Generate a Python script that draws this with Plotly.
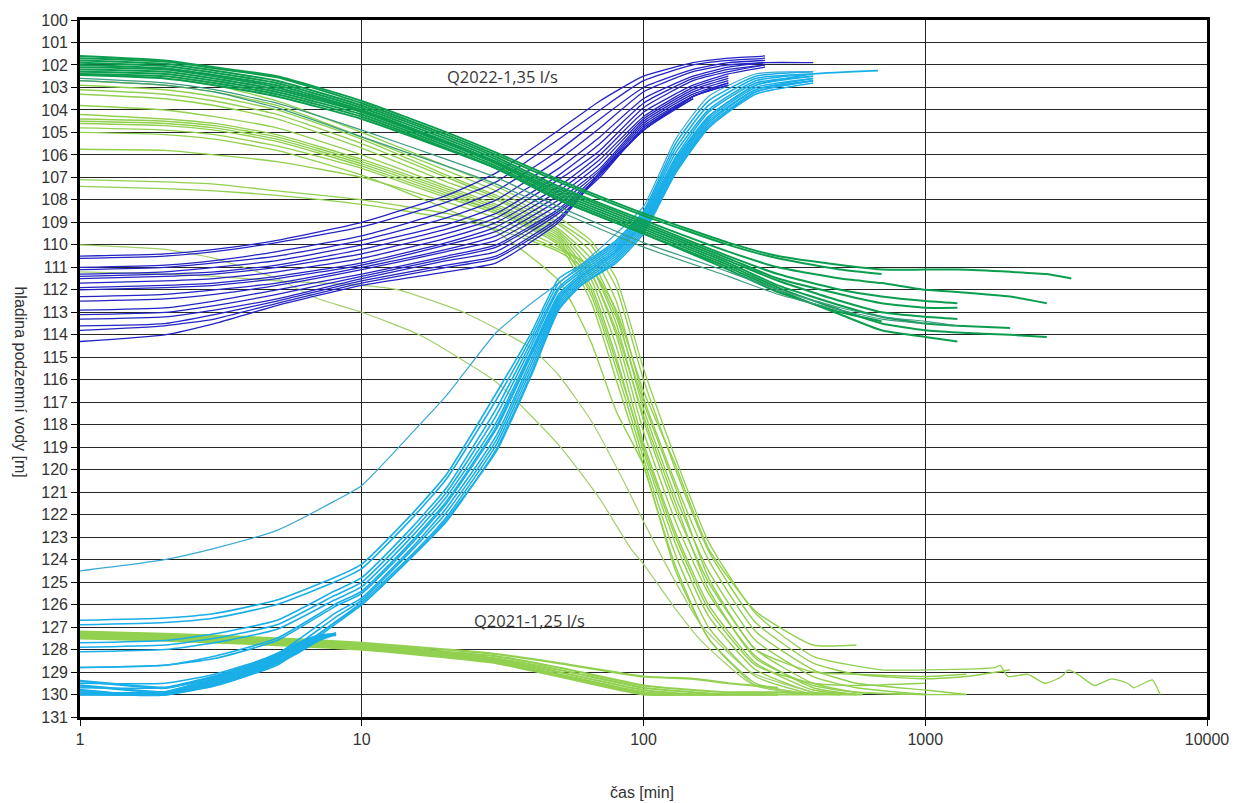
import math
import plotly.graph_objects as go

N = None

# ---------------- axes ----------------
X_TICKS = [1, 10, 100, 1000, 10000]
X_TICK_TEXT = ["1", "10", "100", "1000", "10000"]
Y_TICKS = list(range(100, 132))

# ---------------- Q2022 drawdown (dark green) ----------------
T_G = [1, 2, 3, 5, 10, 20, 30, 50, 100, 200, 300, 500, 700, 1000, 1300, 2000, 2700, 3300]
G_LINES = [
    [101.6, 101.8, 102.1, 102.5, 103.6, 105.0, 105.9, 107.1, 108.6, 109.9, 110.5, 110.9, 111.1, 111.1, 111.1, 111.2, 111.3, 111.5],
    [101.7, 101.85, 102.15, 102.55, 103.7, 105.1, 106.0, 107.2, 108.7, 110.0, 110.6, 111.1, 111.3, N, N, N, N, N],
    [101.8, 101.95, 102.25, 102.7, 103.8, 105.2, 106.1, 107.4, 108.9, 110.3, 111.0, 111.5, 111.7, 112.0, 112.1, 112.3, 112.6, N],
    [101.9, 102.05, 102.35, 102.8, 103.9, 105.3, 106.2, 107.5, 109.0, 110.5, 111.3, 112.0, 112.3, 112.5, 112.6, N, N, N],
    [102.0, 102.15, 102.45, 102.9, 104.0, 105.4, 106.3, 107.6, 109.1, 110.6, 111.5, 112.2, 112.6, 112.8, 112.8, N, N, N],
    [102.1, 102.2, 102.5, 103.0, 104.05, 105.45, 106.35, 107.7, 109.2, 110.7, 111.6, 112.5, 113.0, 113.2, 113.3, N, N, N],
    [102.2, 102.3, 102.6, 103.1, 104.1, 105.5, 106.4, 107.8, 109.3, 110.8, 111.8, 112.7, 113.2, 113.5, 113.6, 113.7, N, N],
    [102.3, 102.4, 102.7, 103.2, 104.2, 105.6, 106.5, 107.9, 109.4, 110.9, 111.9, 112.9, 113.5, 113.8, 113.9, 114.0, 114.1, N],
    [102.4, 102.5, 102.8, 103.3, 104.3, 105.7, 106.6, 108.0, 109.5, 111.0, 112.0, 113.1, 113.8, 114.1, 114.3, N, N, N],
    [102.45, 102.6, 102.9, 103.4, 104.4, 105.75, 106.6, 108.0, 109.5, 111.1, 112.1, 113.0, 113.4, N, N, N, N, N],
]
G_THIN = [
    [102.6, 102.8, 103.1, 103.7, 104.9, 106.2, 107.0, 108.3, 109.9, 111.2, 112.0, 112.8, 113.2, 113.4, 113.6, N, N, N],
    [102.7, 102.9, 103.2, 103.9, 105.2, 106.5, 107.3, 108.5, 110.1, 111.4, 112.2, 112.9, 113.3, 113.5, N, N, N, N],
]

# ---------------- Q2022 recovery (dark blue) ----------------
T_B = [1, 2, 3, 5, 10, 20, 30, 50, 70, 100, 150, 200, 270, 400]
B_LINES = [
    [110.5, 110.4, 110.2, 109.8, 109.0, 107.8, 106.8, 104.9, 103.6, 102.5, 101.9, 101.7, 101.6, N],
    [110.6, 110.5, 110.3, 109.9, 109.2, 108.1, 107.2, 105.3, 104.0, 102.7, 102.0, 101.8, 101.7, N],
    [111.0, 110.9, 110.7, 110.3, 109.6, 108.5, 107.6, 105.8, 104.4, 103.0, 102.2, 101.9, 101.8, N],
    [111.1, 111.0, 110.8, 110.5, 109.8, 108.8, 108.0, 106.2, 104.8, 103.2, 102.3, 102.0, 101.9, N],
    [111.3, 111.2, 111.0, 110.7, 110.0, 109.1, 108.3, 106.6, 105.2, 103.5, 102.5, 102.1, 101.9, 101.9],
    [111.4, 111.3, 111.2, 110.9, 110.2, 109.3, 108.6, 106.9, 105.5, 103.7, 102.6, 102.2, 102.0, N],
    [111.5, 111.4, 111.3, 111.0, 110.4, 109.5, 108.8, 107.1, 105.8, 103.9, 102.7, 102.3, 102.0, N],
    [111.7, 111.6, 111.5, 111.2, 110.6, 109.7, 109.0, 107.4, 106.0, 104.1, 102.9, 102.4, 102.1, N],
    [111.9, 111.8, 111.7, 111.4, 110.8, 109.9, 109.2, 107.6, 106.2, 104.3, 103.0, 102.5, N, N],
    [112.0, 111.9, 111.8, 111.5, 110.9, 110.0, 109.4, 107.8, 106.4, 104.4, 103.1, 102.6, N, N],
    [112.3, 112.2, 112.0, 111.7, 111.0, 110.2, 109.6, 108.0, 106.6, 104.5, 103.2, 102.7, N, N],
    [112.5, 112.4, 112.2, 111.8, 111.1, 110.3, 109.8, 108.2, 106.7, 104.6, 103.3, 102.8, N, N],
    [112.9, 112.8, 112.5, 112.0, 111.3, 110.5, 110.0, 108.4, 106.8, 104.7, 103.4, 102.9, N, N],
    [113.1, 113.0, 112.7, 112.2, 111.4, 110.6, 110.1, 108.5, 106.9, 104.8, 103.4, N, N, N],
    [113.3, 113.2, 112.9, 112.4, 111.5, 110.7, 110.3, 108.6, 107.0, 104.8, 103.5, N, N, N],
    [113.6, 113.5, 113.1, 112.5, 111.6, 110.9, 110.5, 108.8, 106.9, 104.9, 103.5, N, N, N],
    [113.8, 113.6, 113.3, 112.6, 111.7, 111.0, 110.6, 108.9, 106.8, 104.9, 103.4, 102.9, N, N],
    [114.3, 114.0, 113.5, 112.7, 111.8, 111.2, 110.8, 109.0, 106.8, 104.9, 103.4, 102.8, N, N],
]

# ---------------- Q2021 drawdown (light green) ----------------
T_C = [1, 2, 3, 5, 10, 20, 30, 50, 65, 80, 100, 130, 170, 250, 400, 570, 1000, 1400, 2000]
C_LINES = [
    [102.7, 102.9, 103.2, 103.8, 105.2, 106.7, 107.6, 109.0, 110.0, 111.9, 116.0, 120.0, 123.6, 126.8, 128.6, 129.1, 129.3, 129.2, 128.9],
    [102.9, 103.1, 103.4, 104.0, 105.3, 106.9, 107.8, 109.1, 110.3, 112.5, 116.8, 120.6, 124.0, 127.2, 128.9, 129.5, 129.8, 130.0, N],
    [103.1, 103.3, 103.6, 104.2, 105.5, 107.0, 107.9, 109.3, 110.6, 113.0, 117.3, 121.2, 124.5, 127.6, 129.2, 129.7, 130.0, N, N],
    [103.3, 103.5, 103.8, 104.4, 105.7, 107.2, 108.0, 109.4, 110.9, 113.5, 117.8, 121.8, 125.0, 128.0, 129.5, 129.9, 130.0, N, N],
    [103.8, 104.0, 104.3, 104.8, 106.0, 107.4, 108.2, 109.5, 111.2, 114.0, 118.3, 122.3, 125.5, 128.3, 129.7, 130.0, N, N, N],
    [104.2, 104.4, 104.6, 105.1, 106.2, 107.5, 108.3, 109.6, 111.5, 114.5, 118.8, 122.8, 126.0, 128.6, 129.8, 130.0, N, N, N],
    [104.4, 104.5, 104.7, 105.2, 106.3, 107.6, 108.4, 109.7, 111.8, 115.0, 119.2, 123.3, 126.5, 128.9, 129.9, 130.0, N, N, N],
    [104.5, 104.6, 104.8, 105.3, 106.4, 107.7, 108.5, 109.9, 112.0, 115.2, 119.0, 123.0, 126.2, 128.7, 129.5, 129.6, 129.5, N, N],
    [104.6, 104.7, 104.9, 105.4, 106.5, 107.8, 108.5, 109.8, 112.2, 115.5, 119.5, 123.8, 127.0, 129.2, 130.0, N, N, N, N],
    [104.8, 104.9, 105.1, 105.6, 106.6, 107.9, 108.6, 110.0, 112.5, 116.0, 119.8, 124.3, 127.5, 129.5, 130.0, N, N, N, N],
    [105.0, 105.1, 105.3, 105.8, 106.9, 108.4, 109.4, 111.6, 114.3, 117.4, 119.8, 124.5, 127.5, 129.6, 130.0, N, N, N, N],
    [105.75, 105.8, 106.0, 106.3, 107.0, 108.1, 108.8, 110.1, 111.0, 112.9, 116.5, 119.8, 123.5, 126.3, 127.8, 127.8, N, N, N],
    [107.1, 107.2, 107.3, 107.6, 108.0, 108.6, 109.1, 110.2, 111.0, 113.2, 117.0, 120.8, 124.8, 128.0, 129.0, 129.1, 129.2, 129.1, N],
    [107.4, 107.5, 107.6, 107.8, 108.2, 108.8, 109.3, 110.3, 111.3, 113.8, 117.6, 121.5, 125.3, 128.4, 129.6, 129.9, 130.0, 130.0, N],
]
LONG_T = [1, 2, 3, 5, 10, 20, 30, 50, 65, 80, 100, 130, 170, 250, 400, 700, 1026, 1770, 1844, 1967,
          2315, 2660, 3053, 3220, 3476, 3990, 4584, 5226, 5496, 5963, 6395, 6822]
LONG_V = [102.4, 102.6, 102.9, 103.6, 105.0, 106.5, 107.4, 108.8, 109.8, 111.5, 115.5, 119.5, 123.2, 126.4, 128.3, 128.9,
          128.9, 128.8, 128.7, 129.2, 129.1, 129.5, 129.2, 128.9, 129.1, 129.6, 129.3, 129.5, 129.7, 129.5, 129.35, 130.0]
O1_T = [1, 2, 3, 5, 7, 10, 16, 30, 50, 70, 90, 100, 130, 160, 240, 400]
O1_V = [110.0, 110.2, 110.6, 111.5, 112.4, 113.0, 114.0, 116.1, 118.9, 121.3, 123.5, 124.2, 126.2, 127.6, 129.5, 130.0]
O2_T = [1, 2, 3, 5, 10, 13.5, 23, 40, 50, 65, 85, 100, 130, 160, 240, 400]
O2_V = [111.2, 111.3, 111.4, 111.6, 111.8, 112.0, 113.0, 114.6, 115.8, 117.8, 120.5, 122.3, 125.0, 126.9, 129.0, 129.9]

# bottom light-green band (Q2021, second test)
T_F = [1, 2, 5, 10, 20, 30, 50, 100, 150, 200, 300, 500, 600]
F_LINES = [
    [127.2, 127.3, 127.5, 127.7, 128.0, 128.2, 128.6, 129.2, 129.3, 129.5, 129.7, N, N],
    [127.25, 127.35, 127.55, 127.75, 128.1, 128.3, 128.8, 129.6, 129.8, 129.9, 129.9, 130.0, N],
    [127.3, 127.4, 127.6, 127.8, 128.15, 128.4, 128.9, 129.7, 129.9, 130.0, 130.0, N, N],
    [127.35, 127.45, 127.65, 127.85, 128.2, 128.45, 129.0, 129.8, 130.0, 130.0, 130.0, 130.0, 130.0],
    [127.4, 127.5, 127.7, 127.9, 128.25, 128.5, 129.1, 129.9, 130.0, 130.0, N, N, N],
    [127.45, 127.55, 127.75, 127.95, 128.3, 128.55, 129.15, 129.95, 130.0, N, N, N, N],
    [127.5, 127.6, 127.8, 128.0, 128.35, 128.6, 129.2, 130.0, 130.0, 130.0, 130.0, N, N],
]

# ---------------- Q2021 recovery (cyan) ----------------
T_D = [1, 2, 3, 5, 8, 10, 15, 20, 30, 40, 50, 60, 80, 100, 130, 170, 250, 400, 680]
D_OUT = [124.5, 124.0, 123.5, 122.7, 121.4, 120.7, 118.4, 116.7, 113.9, 112.6, 111.7, 110.9, 109.5, 108.3, 105.3, 103.4, 102.4, 102.3, N]
D_LINES = [
    [126.7, 126.6, 126.4, 125.8, 124.8, 124.2, 122.0, 120.2, 116.6, 113.9, 111.5, 110.9, 109.8, 108.5, 105.5, 103.6, 102.5, 102.3, N],
    [126.9, 126.8, 126.6, 126.0, 125.0, 124.4, 122.2, 120.4, 116.9, 114.1, 111.7, 111.0, 109.9, 108.6, 105.7, 103.8, 102.6, 102.4, N],
    [127.7, 127.6, 127.3, 126.7, 125.4, 124.8, 122.6, 120.8, 117.3, 114.3, 111.9, 111.1, 110.0, 108.7, 105.9, 104.0, 102.7, 102.4, N],
    [127.9, 127.8, 127.5, 126.9, 125.6, 125.0, 122.8, 121.0, 117.6, 114.5, 112.0, 111.2, 110.1, 108.8, 106.1, 104.1, 102.8, 102.5, N],
    [128.1, 128.0, 127.7, 127.1, 125.8, 125.2, 123.0, 121.2, 117.9, 114.7, 112.2, 111.3, 110.2, 108.9, 106.2, 104.3, 102.9, 102.4, 102.25],
    [128.8, 128.7, 128.4, 127.6, 126.1, 125.5, 123.3, 121.5, 118.2, 114.9, 112.4, 111.4, 110.3, 109.0, 106.4, 104.4, 103.0, 102.6, N],
    [128.8, 128.7, 128.3, 127.5, 126.0, 125.4, 123.2, 121.4, 118.1, 114.8, 112.3, 111.4, 110.3, 109.0, 106.3, 104.3, 102.9, 102.5, N],
    [129.5, 129.5, 129.1, 128.2, 126.4, 125.7, 123.5, 121.7, 118.5, 115.1, 112.5, 111.5, 110.4, 109.1, 106.5, 104.5, 103.1, 102.6, N],
    [129.7, 129.7, 129.3, 128.4, 126.6, 125.8, 123.6, 121.9, 118.7, 115.3, 112.6, 111.6, 110.5, 109.2, 106.6, 104.6, 103.1, 102.7, N],
    [129.9, 129.9, 129.5, 128.6, 126.8, 125.9, 123.8, 122.1, 118.9, 115.5, 112.7, 111.7, 110.6, 109.3, 106.7, 104.7, 103.2, 102.7, N],
    [130.0, 130.0, 129.6, 128.7, 126.9, 126.0, 123.9, 122.3, 119.1, 115.7, 112.8, 111.8, 110.7, 109.4, 106.8, 104.8, 103.3, 102.8, N],
    [130.0, 129.9, 129.5, 128.6, 126.8, 126.0, 123.9, 122.2, 119.2, 115.8, 112.9, 111.8, 110.8, 109.5, 106.8, 104.8, 103.2, 102.7, N],
]
# short thick cyan band ending at t = 8
T_E = [1, 1.5, 2, 3, 4, 5, 6, 7, 8.1]
E_LINES = [
    [129.8, 130.0, 130.0, 129.6, 129.1, 128.6, 128.1, 127.6, 127.3],
    [129.6, 129.8, 129.9, 129.4, 128.9, 128.4, 127.9, 127.5, 127.3],
    [129.9, 130.0, 129.9, 129.3, 128.8, 128.3, 127.8, 127.4, 127.35],
    [129.4, 129.6, 129.7, 129.2, 128.7, 128.2, 127.7, 127.4, 127.3],
    [130.0, 130.0, 130.0, 129.5, 129.0, 128.5, 128.0, 127.5, 127.3],
]

# ---------------- labels ----------------
LABELS = [("Q2022-1,35 l/s", 31.6, 102.5), ("Q2021-1,25 l/s", 39.4, 126.7)]
X_TITLE = "čas [min]"
Y_TITLE = "hladina podzemní vody [m]"

# ---------------- styles ----------------
C_DKGREEN = "#0c9e4e"
C_TEAL = "#3d9c7e"
C_BLUE = "#2424c4"
C_LTGREEN = "#92d050"
C_CYAN = "#19aee8"
C_CYAN_THIN = "#3aa9d6"

fig = go.Figure()


def add(ts, vs, color, width):
    xs = [t for t, v in zip(ts, vs) if v is not None]
    ys = [v for v in vs if v is not None]
    fig.add_trace(go.Scatter(x=xs, y=ys, mode="lines",
                             line=dict(color=color, width=width, shape="spline", smoothing=0.5),
                             hoverinfo="skip", showlegend=False))


for vs in C_LINES:
    add(T_C, vs, C_LTGREEN, 1.4)
add(LONG_T, LONG_V, C_LTGREEN, 1.3)
add(O1_T, O1_V, "#a3cf6e", 1.2)
add(O2_T, O2_V, "#a3cf6e", 1.2)
for vs in F_LINES:
    add(T_F, vs, C_LTGREEN, 2.2)
for vs in D_LINES:
    add(T_D, vs, C_CYAN, 1.6)
add(T_D, D_OUT, C_CYAN_THIN, 1.2)
for vs in E_LINES:
    add(T_E, vs, C_CYAN, 2.6)
for vs in B_LINES:
    add(T_B, vs, C_BLUE, 1.3)
for vs in G_LINES:
    add(T_G, vs, C_DKGREEN, 2.0)
for vs in G_THIN:
    add(T_G, vs, C_TEAL, 1.2)

for text, tx, ty in LABELS:
    fig.add_annotation(x=math.log10(tx), y=ty, xref="x", yref="y", text=text, showarrow=False,
                       font=dict(family="Open Sans, Liberation Sans, Arial", size=16.5, color="#383838"))

fig.add_annotation(x=0.4987, y=-0.1086, xref="paper", yref="paper", text=X_TITLE, showarrow=False,
                   font=dict(family="Liberation Sans, Arial", size=16, color="#333333"),
                   xanchor="center", yanchor="middle")
fig.add_annotation(x=-0.053, y=0.481, xref="paper", yref="paper", text=Y_TITLE, showarrow=False,
                   textangle=90, font=dict(family="Liberation Sans, Arial", size=16, color="#333333"),
                   xanchor="center", yanchor="middle")

fig.update_xaxes(type="log", range=[0, 4], tickvals=X_TICKS, ticktext=X_TICK_TEXT,
                 showgrid=True, gridcolor="#262626", gridwidth=1.3,
                 showline=True, linecolor="#000000", linewidth=2.6, mirror=True,
                 ticks="outside", ticklen=6, tickcolor="#000000", tickwidth=1.3,
                 tickfont=dict(family="Liberation Sans, Arial", size=16, color="#333333"),
                 zeroline=False)
fig.update_yaxes(range=[131, 100], tickvals=Y_TICKS, ticktext=[str(v) for v in Y_TICKS],
                 showgrid=True, gridcolor="#262626", gridwidth=1.3,
                 showline=True, linecolor="#000000", linewidth=2.6, mirror=True,
                 ticks="outside", ticklen=6, tickcolor="#000000", tickwidth=1.3,
                 tickfont=dict(family="Liberation Sans, Arial", size=16, color="#333333"),
                 zeroline=False)
fig.update_layout(width=1241, height=803, margin=dict(l=80, r=28, t=17, b=86),
                  paper_bgcolor="white", plot_bgcolor="white")

fig.write_html("out.html")
